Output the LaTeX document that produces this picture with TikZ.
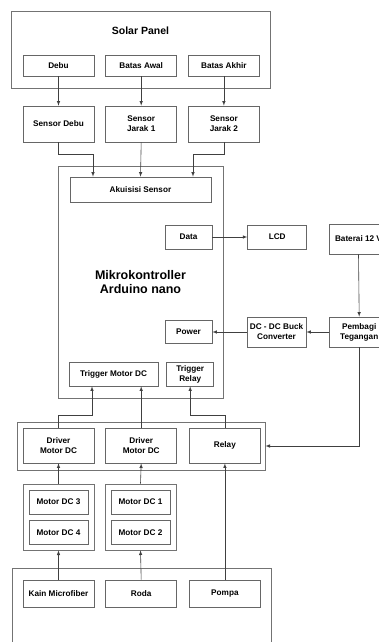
\documentclass[tikz,border=0pt]{standalone}
\usepackage{fontspec}
\setmainfont{Liberation Sans}
\usetikzlibrary{positioning}

\tikzset{
	block/.style={draw=black!60, line width=0.7pt, inner sep=1pt, align=center,
		font=\fontsize{8.2}{10}\selectfont\bfseries},
	outerbox/.style={draw=black!55, line width=0.8pt, inner sep=0pt},
	conn/.style={-latex, draw=black!75, line width=0.6pt},
}

\begin{document}
\begin{tikzpicture}[x=1pt, y=-1pt]

\path [use as bounding box, clip] (0,0) rectangle (379,642);

% Solar Panel
\node [outerbox,
	minimum width=259pt,
	minimum height=77pt
] (panel) at (140.5,49.5) {};
\node [font=\fontsize{10.5}{12}\selectfont\bfseries] (paneltitle) at (140.5,31) {Solar Panel};

\node [block,
	minimum width=71pt,
	minimum height=21pt
] (debu) at (58.5,65.5) {Debu};
\node [block,
	minimum width=71pt,
	minimum height=21pt,
	right = 11pt of debu
] (awal) {Batas Awal};
\node [block,
	minimum width=71pt,
	minimum height=21pt,
	right = 11pt of awal
] (akhir) {Batas Akhir};

% Sensor
\node [block,
	minimum width=71pt,
	minimum height=36pt
] (sdebu) at (58.5,124) {Sensor Debu};
\node [block,
	minimum width=71pt,
	minimum height=36pt,
	right = 11pt of sdebu
] (jarak1) {Sensor\\Jarak 1};
\node [block,
	minimum width=71pt,
	minimum height=36pt,
	right = 11pt of jarak1
] (jarak2) {Sensor\\Jarak 2};

% Mikrokontroller
\node [outerbox,
	minimum width=165pt,
	minimum height=232pt,
	align=center,
	font=\fontsize{12.5}{14}\selectfont\bfseries
] (mikro) at (140.5,282) {Mikrokontroller\\Arduino nano};

\node [block,
	minimum width=141pt,
	minimum height=25pt
] (akuisisi) at (140.5,189.5) {Akuisisi Sensor};
\node [block,
	minimum width=47pt,
	minimum height=24pt
] (data) at (188.5,237) {Data};
\node [block,
	minimum width=59pt,
	minimum height=24pt,
	right = 35pt of data
] (lcd) {LCD};
\node [block,
	minimum width=47pt,
	minimum height=23pt
] (power) at (188.5,332) {Power};
\node [block,
	minimum width=89pt,
	minimum height=24pt
] (trigmotor) at (113.5,374) {Trigger Motor DC};
\node [block,
	minimum width=47pt,
	minimum height=24pt,
	right = 8pt of trigmotor
] (trigrelay) {Trigger\\Relay};

% Catu daya
\node [block,
	minimum width=59pt,
	minimum height=30pt
] (baterai) at (358.5,239) {Baterai 12 V};
\node [block,
	minimum width=59pt,
	minimum height=30pt
] (dcdc) at (276.5,332) {DC - DC Buck\\Converter};
\node [block,
	minimum width=59pt,
	minimum height=30pt,
	right = 23pt of dcdc
] (pembagi) {Pembagi\\Tegangan};

% Driver
\node [outerbox,
	minimum width=248pt,
	minimum height=48pt
] (drivers) at (141,446) {};
\node [block,
	minimum width=71pt,
	minimum height=35pt
] (drv1) at (58.5,445.5) {Driver\\Motor DC};
\node [block,
	minimum width=71pt,
	minimum height=35pt,
	right = 11pt of drv1
] (drv2) {Driver\\Motor DC};
\node [block,
	minimum width=71pt,
	minimum height=35pt,
	right = 12pt of drv2
] (relay) {Relay};

% Motor DC
\node [outerbox,
	minimum width=71pt,
	minimum height=66pt
] (mg1) at (58.5,517) {};
\node [block,
	minimum width=59pt,
	minimum height=24pt
] (m3) at (58.5,502) {Motor DC 3};
\node [block,
	minimum width=59pt,
	minimum height=24pt,
	below = 6pt of m3
] (m4) {Motor DC 4};

\node [outerbox,
	minimum width=71pt,
	minimum height=66pt
] (mg2) at (140.5,517) {};
\node [block,
	minimum width=59pt,
	minimum height=24pt
] (m1) at (140.5,502) {Motor DC 1};
\node [block,
	minimum width=59pt,
	minimum height=24pt,
	below = 6pt of m1
] (m2) {Motor DC 2};

% Aktuator
\node [outerbox,
	minimum width=259pt,
	minimum height=140pt
] (aktuator) at (141.5,638) {};
\node [block,
	minimum width=71pt,
	minimum height=27pt
] (kain) at (58.5,593.5) {Kain Microfiber};
\node [block,
	minimum width=71pt,
	minimum height=27pt,
	right = 11pt of kain
] (roda) {Roda};
\node [block,
	minimum width=71pt,
	minimum height=27pt,
	right = 12pt of roda
] (pompa) {Pompa};

% Arrows
\draw [conn] (debu.south) -- (sdebu.north);
\draw [conn] (awal.south) -- (jarak1.north);
\draw [conn] (akhir.south) -- (jarak2.north);

\draw [conn] (sdebu.south) -- ++(0,12) -| ([xshift=-47.5pt]akuisisi.north);
\draw [conn] (jarak1.south) -- (akuisisi.north);
\draw [conn] (jarak2.south) -- ++(0,12) -| ([xshift=52.5pt]akuisisi.north);

\draw [conn] (data.east) -- (lcd.west);
\draw [conn] (baterai.south) -- (pembagi.north);
\draw [conn] (pembagi.west) -- (dcdc.east);
\draw [conn] (dcdc.west) -- (power.east);
\draw [conn] (pembagi.south) |- (drivers.east);

\draw [conn] (drv1.north) -- ++(0,-12) -| ([xshift=-21.5pt]trigmotor.south);
\draw [conn] (drv2.north) -- (drv2.north |- trigmotor.south);
\draw [conn] (relay.north) -- ++(0,-12) -| (trigrelay.south);

\draw [conn] (mg1.north) -- (drv1.south);
\draw [conn] (mg2.north) -- (drv2.south);

\draw [conn] (kain.north) -- (mg1.south);
\draw [conn] (roda.north) -- (mg2.south);
\draw [conn] (pompa.north) -- (relay.south);

\end{tikzpicture}
\end{document}
